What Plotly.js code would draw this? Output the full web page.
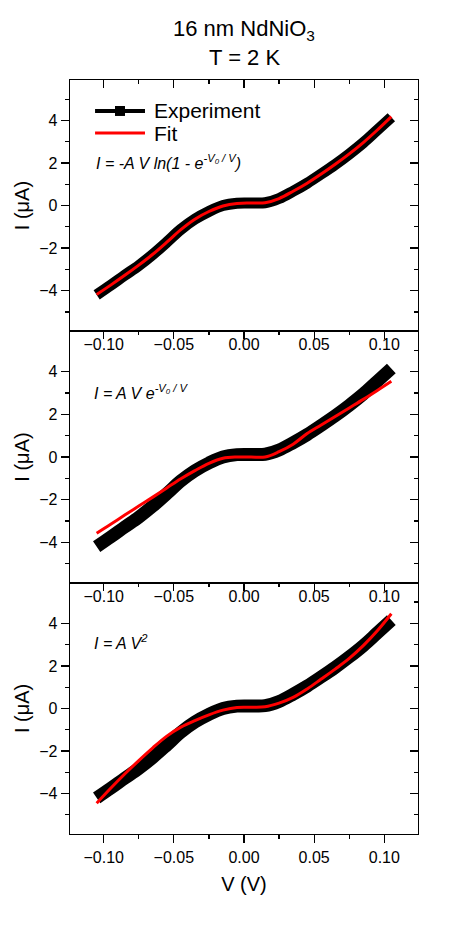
<!DOCTYPE html>
<html>
<head>
<meta charset="utf-8">
<script src="https://cdn.plot.ly/plotly-3.0.1.min.js"></script>
<style>
  html, body { margin: 0; padding: 0; background: #fff; }
  #grafico { width: 463px; height: 926px; }
</style>
</head>
<body>
<div id="grafico"></div>
<script>
// Voltaje (V) y corrientes (uA)
const voltaje = [-0.105, -0.095, -0.085, -0.075, -0.065, -0.055, -0.045, -0.035, -0.025, -0.015, -0.005,
                 0.005, 0.015, 0.025, 0.035, 0.045, 0.055, 0.065, 0.075, 0.085, 0.095, 0.105];
const corrienteExp = [-4.20, -3.75, -3.28, -2.82, -2.30, -1.72, -1.12, -0.64, -0.28, 0.00, 0.11,
                      0.12, 0.13, 0.33, 0.67, 1.05, 1.48, 1.93, 2.42, 2.95, 3.55, 4.15];
const ajusteLn = [-4.18, -3.74, -3.28, -2.80, -2.29, -1.72, -1.13, -0.64, -0.28, -0.02, 0.10,
                  0.12, 0.13, 0.33, 0.67, 1.05, 1.48, 1.94, 2.43, 2.96, 3.55, 4.18];
const ajusteExp = [-3.57, -3.15, -2.72, -2.30, -1.88, -1.45, -1.02, -0.64, -0.30, -0.06, 0.00,
                   0.00, 0.00, 0.25, 0.60, 1.10, 1.50, 1.90, 2.30, 2.70, 3.12, 3.55];
const ajusteCuad = [-4.45, -3.75, -3.08, -2.45, -1.85, -1.30, -0.88, -0.57, -0.30, -0.08, 0.05,
                    0.06, 0.08, 0.25, 0.52, 0.92, 1.38, 1.85, 2.35, 2.95, 3.65, 4.45];

const ajustes = [ajusteLn, ajusteExp, ajusteCuad];
const anchos = [11, 13, 13];
const dominios = [[0.667, 1], [0.333, 0.667], [0, 0.333]];

const fuente = { family: "Liberation Sans, Arial, sans-serif", color: "#000" };
const f = (size) => Object.assign({ size: size }, fuente);
const rangoX = [-0.124, 0.124];
const rangoY = [-5.9, 5.9];

var datos = [];
[0, 1, 2].forEach((i) => {
  const n = i === 0 ? "" : String(i + 1);
  datos.push({
    x: voltaje, y: corrienteExp, xaxis: "x" + n, yaxis: "y" + n,
    type: "scatter", mode: "lines", name: "Experiment",
    line: { color: "#000", width: anchos[i], shape: "spline" },
    showlegend: false, hoverinfo: "skip"
  });
  datos.push({
    x: voltaje, y: ajustes[i], xaxis: "x" + n, yaxis: "y" + n,
    type: "scatter", mode: "lines", name: "Fit",
    line: { color: "#ff0000", width: 3, shape: "spline" },
    showlegend: false, hoverinfo: "skip"
  });
  // trazas vacias para que se dibujen los ejes superiores y derechos
  datos.push({ x: [null], y: [null], xaxis: "x" + (i + 4), yaxis: "y" + n,
    type: "scatter", mode: "lines", showlegend: false, hoverinfo: "skip" });
  datos.push({ x: [null], y: [null], xaxis: "x" + n, yaxis: "y" + (i + 4),
    type: "scatter", mode: "lines", showlegend: false, hoverinfo: "skip" });
});

const menorX = (t) => ({ dtick: 0.025, ticklen: 4, tickwidth: 1.3, tickcolor: "#000", ticks: t });
const menorY = (t) => ({ dtick: 1, ticklen: 4, tickwidth: 1.3, tickcolor: "#000", ticks: t });

const ejeX = (extra) => Object.assign({
  range: rangoX, dtick: 0.05, tick0: 0, tickmode: "linear", tickformat: ".2f",
  showline: true, linecolor: "#000", linewidth: 1.3,
  ticklen: 8, tickwidth: 1.3, tickcolor: "#000",
  showgrid: false, zeroline: false, tickfont: f(16)
}, extra);

const ejeY = (extra) => Object.assign({
  range: rangoY, dtick: 2, tickmode: "linear", tick0: 0,
  showline: true, linecolor: "#000", linewidth: 1.3,
  ticklen: 8, tickwidth: 1.3, tickcolor: "#000",
  showgrid: false, zeroline: false, tickfont: f(16)
}, extra);

// leyenda dibujada a mano (linea larga como en el original)
const leyenda = [
  { type: "line", xref: "paper", yref: "paper", x0: 0.072, x1: 0.2155, y0: 0.9589, y1: 0.9589,
    line: { color: "#000", width: 4 } },
  { type: "rect", xref: "paper", yref: "paper", x0: 0.1293, x1: 0.158, y0: 0.9523, y1: 0.9655,
    fillcolor: "#000", line: { width: 0 } },
  { type: "line", xref: "paper", yref: "paper", x0: 0.072, x1: 0.2155, y0: 0.9297, y1: 0.9297,
    line: { color: "#ff0000", width: 3 } }
];

var diseño = {
  width: 463, height: 926,
  margin: { l: 70, r: 45, t: 80, b: 92 },
  paper_bgcolor: "#fff", plot_bgcolor: "#fff",
  font: fuente,
  showlegend: false,
  shapes: leyenda,
  annotations: [
    { text: "16 nm NdNiO<sub>3</sub>", xref: "paper", yref: "paper", x: 0.5, y: 1.066,
      yanchor: "middle", showarrow: false, font: f(22) },
    { text: "T = 2 K", xref: "paper", yref: "paper", x: 0.5, y: 1.0292,
      yanchor: "middle", showarrow: false, font: f(22) },
    { text: "Experiment", xref: "paper", yref: "paper", x: 0.236, y: 0.9589,
      xanchor: "left", yanchor: "middle", showarrow: false, font: f(21) },
    { text: "Fit", xref: "paper", yref: "paper", x: 0.236, y: 0.9297,
      xanchor: "left", yanchor: "middle", showarrow: false, font: f(21) },
    { text: "<i>I = -A V ln(1 - e<sup>-V<sub>0</sub> / V</sup>)</i>", xref: "paper", yref: "paper",
      x: 0.07, y: 0.891, xanchor: "left", yanchor: "middle", showarrow: false, font: f(16) },
    { text: "<i>I = A V e<sup>-V<sub>0</sub> / V</sup></i>", xref: "paper", yref: "paper",
      x: 0.062, y: 0.586, xanchor: "left", yanchor: "middle", showarrow: false, font: f(16) },
    { text: "<i>I = A V<sup>2</sup></i>", xref: "paper", yref: "paper",
      x: 0.062, y: 0.2546, xanchor: "left", yanchor: "middle", showarrow: false, font: f(16) }
  ]
};

[0, 1, 2].forEach((i) => {
  const n = i === 0 ? "" : String(i + 1);
  const abajo = i === 2;
  // eje inferior de cada panel (solo el ultimo lleva marcas y etiquetas)
  diseño["xaxis" + n] = ejeX(abajo ? {
    anchor: "y3", side: "bottom", ticks: "outside", minor: menorX("outside"),
    title: { text: "V (V)", font: f(20), standoff: 12 }
  } : {
    anchor: "y" + n, side: "bottom", ticks: "", showticklabels: false
  });
  // eje superior con marcas interiores
  diseño["xaxis" + (i + 4)] = ejeX({
    overlaying: "x" + n, anchor: "y" + n, side: "top", ticks: "inside",
    showticklabels: i > 0, ticklabelposition: "inside", minor: menorX("inside")
  });
  diseño["yaxis" + n] = ejeY({
    domain: dominios[i], anchor: "x" + n, side: "left", ticks: "outside",
    minor: menorY("outside"),
    title: { text: "I (\u03bcA)", font: f(20), standoff: 4 }
  });
  // marcas interiores a la derecha
  diseño["yaxis" + (i + 4)] = ejeY({
    overlaying: "y" + n, anchor: "x" + n, side: "right", ticks: "inside",
    showticklabels: false, minor: menorY("inside")
  });
});

Plotly.newPlot("grafico", datos, diseño, { staticPlot: true });
</script>
</body>
</html>
